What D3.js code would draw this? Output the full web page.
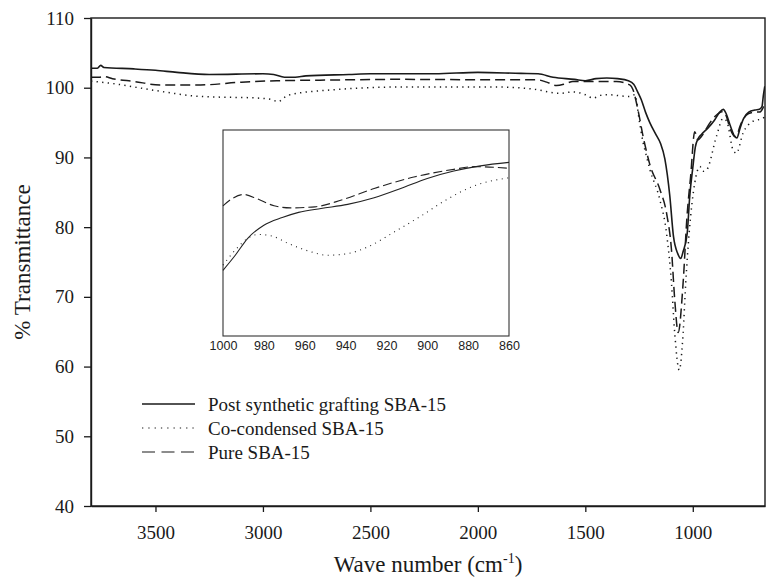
<!DOCTYPE html>
<html><head><meta charset="utf-8">
<script src="https://cdn.jsdelivr.net/npm/d3@7/dist/d3.min.js"></script>
<style>
html,body{margin:0;padding:0;background:#fff;}
svg{display:block;}
</style></head>
<body>
<svg id="chart" width="766" height="577"></svg>
<script>
// ---- Data ----
const seriesNames = ["Post synthetic grafting SBA-15", "Co-condensed SBA-15", "Pure SBA-15"];
const yTicks = [40, 50, 60, 70, 80, 90, 100, 110];
const xTicks = [3500, 3000, 2500, 2000, 1500, 1000];
const insetTicks = [1000, 980, 960, 940, 920, 900, 880, 860];

// Post synthetic grafting SBA-15 (solid)
const waveSolid = [3800,3770,3755,3740,3600,3500,3400,3250,3000,2950,2900,2850,2800,2600,2500,2200,2000,1800,1720,1650,1550,1500,1450,1400,1350,1300,1275,1255,1240,1220,1200,1170,1150,1130,1107,1090,1070,1056,1045,1026,1014,1000,988,975,960,930,900,875,858,845,825,805,795,780,765,740,710,690,678,672,665];
const valSolid  = [102.8,102.8,103.2,102.9,102.7,102.5,102.2,101.9,102.0,101.9,101.5,101.5,101.7,101.9,102.0,102.0,102.2,102.05,102.0,101.5,101.2,101.0,101.3,101.4,101.3,101.0,100.5,99.3,98.3,96.5,95.0,93.2,92.0,89.8,84.5,78.7,76.2,75.5,76.5,79.1,84.5,88.5,91.5,92.7,93.3,94.2,95.3,96.5,96.9,96.3,94.5,93.0,92.8,94.2,95.5,96.5,96.8,96.9,97.3,98.8,100.2];

// Co-condensed SBA-15 (dotted)
const waveDot = [3800,3700,3500,3293,3014,2960,2929,2900,2874,2674,2363,1898,1744,1618,1557,1500,1464,1430,1401,1293,1270,1247,1231,1223,1200,1153,1122,1099,1084,1063,1045,1033,1017,991,967,952,936,890,859,842,813,797,766,719,673,665];
const valDot  = [100.95,100.6,99.6,98.75,98.5,98.3,98.0,98.6,99.0,99.7,100.1,100.1,99.8,99.2,99.4,99.0,98.5,98.9,99.0,98.75,99.0,94.9,92.1,91.1,88.3,83.9,79.1,71.9,64.8,59.5,64.8,71.9,79.1,86.3,88.7,88.0,88.2,93.0,95.6,95.2,91.1,90.6,93.5,95.2,95.6,96.0];

// Pure SBA-15 (dashed)
const waveDash = [3800,3760,3740,3700,3600,3480,3290,3100,2936,2700,2363,2000,1727,1680,1634,1590,1558,1450,1355,1293,1278,1255,1231,1200,1153,1122,1099,1084,1068,1045,1027,1010,991,976,960,930,900,870,858,845,825,805,795,780,765,740,710,690,675,665];
const valDash  = [101.5,101.5,101.6,101.3,100.9,100.4,100.4,100.8,101.0,101.1,101.2,101.15,101.15,100.8,100.3,100.6,100.9,100.9,100.9,100.4,99.7,96.8,93.0,89.0,85.4,82.0,76.7,69.6,64.9,72.0,81.5,87.3,93.7,92.5,93.0,94.5,95.8,96.5,96.6,96.0,94.0,93.0,93.2,94.5,95.5,96.3,96.5,96.5,97.0,97.8];

// Inset (1000-860 cm-1), relative intensity
const insetWaveSolid = [1000,994,988,980,971,963,952,939,926,913,900,887,874,860];
const insetValSolid  = [31.9,39.2,47.3,53.8,57.5,60.0,61.9,63.9,67.1,71.6,76.5,80.1,82.6,84.3];
const insetWaveDot = [1000,994,988,983,976,968,958,949,939,929,916,903,890,877,860];
const insetValDot  = [34.4,41.7,47.3,49.3,48.5,44.9,41.2,39.2,40.0,43.3,50.6,58.3,66.5,72.9,76.8];
const insetWaveDash = [1000,995,990,983,975,967,955,942,926,906,887,877,860];
const insetValDash  = [63.2,67.0,68.7,66.5,63.2,62.2,62.7,66.0,71.6,77.3,80.9,82.2,81.4];

// ---- Layout ----
const svg = d3.select("#chart");
const L = 91, R = 765, T = 18, B = 506;
const serif = "'Liberation Serif','Times New Roman',serif";
const ink = "#1a1a1a";

const x = d3.scaleLinear().domain([3800, 664]).range([L, R]);
const y = d3.scaleLinear().domain([40, 110]).range([B, T]);

const styles = [
  {w: 1.6, dash: null},
  {w: 1.5, dash: "1.3,4.3"},
  {w: 1.5, dash: "10,5"}
];

const mainData = [
  waveSolid.map((w,i)=>[w,valSolid[i]]),
  waveDot.map((w,i)=>[w,valDot[i]]),
  waveDash.map((w,i)=>[w,valDash[i]])
];

const line = d3.line().x(d=>x(d[0])).y(d=>y(d[1])).curve(d3.curveMonotoneX);

svg.append("defs").append("clipPath").attr("id","clip")
  .append("rect").attr("x",L).attr("y",T).attr("width",R-L).attr("height",B-T);

const g = svg.append("g").attr("clip-path","url(#clip)");
mainData.forEach((d,i)=>{
  g.append("path").attr("d", line(d)).attr("fill","none")
    .attr("stroke", ink).attr("stroke-width", styles[i].w)
    .attr("stroke-dasharray", styles[i].dash)
    .attr("stroke-linejoin","round");
});

// frame
svg.append("rect").attr("x",L).attr("y",T).attr("width",R-L).attr("height",B-T)
  .attr("fill","none").attr("stroke",ink).attr("stroke-width",1.4);

// axes
const yAxis = svg.append("g").attr("transform",`translate(${L},0)`)
  .call(d3.axisLeft(y).tickValues(yTicks).tickSize(7).tickSizeOuter(0).tickPadding(10));
const xAxis = svg.append("g").attr("transform",`translate(0,${B})`)
  .call(d3.axisBottom(x).tickValues(xTicks).tickSize(6).tickSizeOuter(0).tickPadding(14).tickFormat(d3.format("d")));
[yAxis, xAxis].forEach(a=>{
  a.select(".domain").attr("stroke",ink).attr("stroke-width",1.4);
  a.selectAll(".tick line").attr("stroke",ink).attr("stroke-width",1.3);
  a.selectAll(".tick text").attr("fill",ink).style("font-family",serif).style("font-size","19px");
});

// axis titles
const xt = svg.append("text").attr("x",(L+R)/2).attr("y",572).attr("text-anchor","middle")
  .style("font-family",serif).style("font-size","23px").attr("fill",ink);
xt.append("tspan").text("Wave number (cm");
xt.append("tspan").text("-1").attr("dy",-9).style("font-size","14px");
xt.append("tspan").text(")").attr("dy",9);

svg.append("text").attr("transform",`translate(30,${(T+B)/2}) rotate(-90)`)
  .attr("text-anchor","middle").style("font-family",serif).style("font-size","23px")
  .attr("fill",ink).text("% Transmittance");

// legend
const legY = [404, 428, 452];
const legOrder = [0, 1, 2];
legOrder.forEach((si,k)=>{
  svg.append("line").attr("x1",142).attr("x2",195).attr("y1",legY[k]).attr("y2",legY[k])
    .attr("stroke",ink).attr("stroke-width", styles[si].w - 0.3)
    .attr("stroke-dasharray", si===1 ? "1.3,5" : (si===2 ? "13,6.5" : null));
  svg.append("text").attr("x",208).attr("y",legY[k]+6.5)
    .style("font-family",serif).style("font-size","19px").attr("fill",ink)
    .text(seriesNames[si]);
});

// ---- Inset ----
const iL = 223, iR = 509, iT = 130, iB = 336;
const ix = d3.scaleLinear().domain([1000, 860]).range([iL, iR]);
const iy = d3.scaleLinear().domain([0, 100]).range([iB, iT]);
svg.append("rect").attr("x",iL).attr("y",iT).attr("width",iR-iL).attr("height",iB-iT)
  .attr("fill","#fff").attr("stroke","#333").attr("stroke-width",1.1);
const iline = d3.line().x(d=>ix(d[0])).y(d=>iy(d[1])).curve(d3.curveMonotoneX);
const insetData = [
  insetWaveSolid.map((w,i)=>[w,insetValSolid[i]]),
  insetWaveDot.map((w,i)=>[w,insetValDot[i]]),
  insetWaveDash.map((w,i)=>[w,insetValDash[i]])
];
const iStyles = [null, "1,4.5", "9,4"];
insetData.forEach((d,i)=>{
  svg.append("path").attr("d", iline(d)).attr("fill","none")
    .attr("stroke", "#222").attr("stroke-width", 1.1)
    .attr("stroke-dasharray", iStyles[i]);
});
const iax = svg.append("g").attr("transform",`translate(0,${iB})`)
  .call(d3.axisBottom(ix).tickValues(insetTicks).tickSize(0).tickPadding(5).tickFormat(d3.format("d")));
iax.select(".domain").remove();
iax.selectAll(".tick text").attr("fill","#222")
  .style("font-family","'Liberation Sans',Arial,sans-serif").style("font-size","12.5px");
</script>
</body></html>
